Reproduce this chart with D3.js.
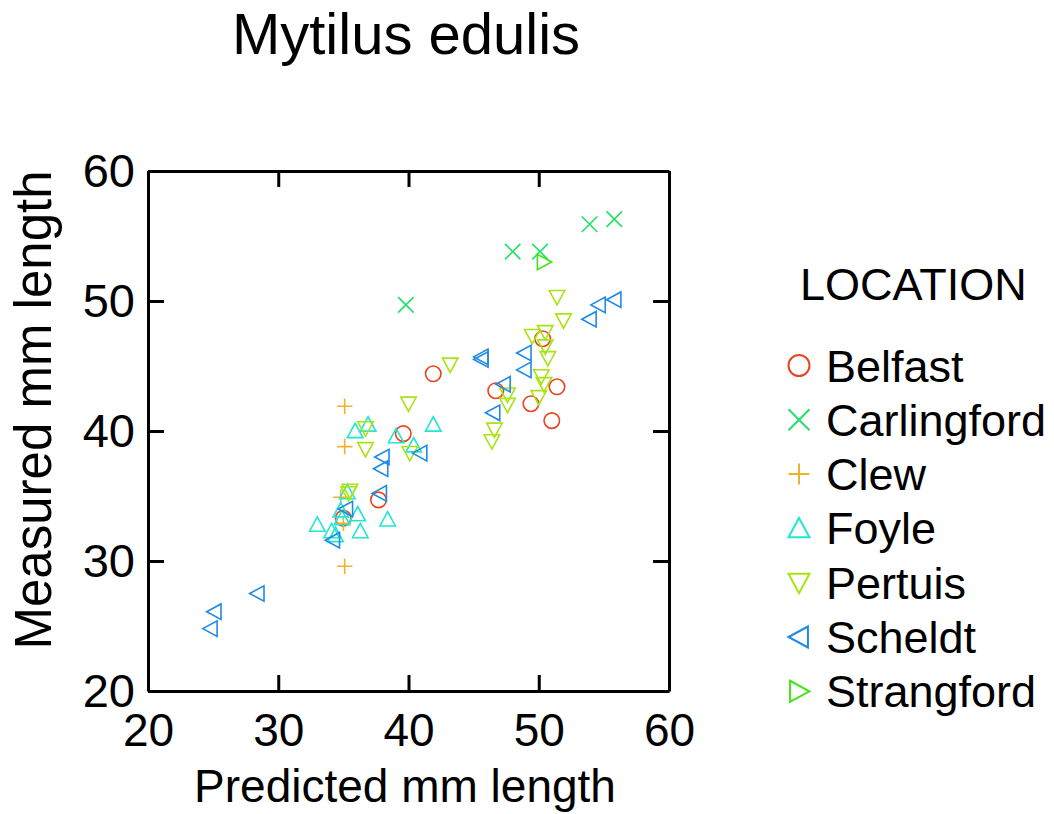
<!DOCTYPE html>
<html>
<head>
<meta charset="utf-8">
<script src="https://cdn.jsdelivr.net/npm/d3@7"></script>
<style>
	body { margin: 0; background: #fff; }
	svg { display: block; font-family: "Liberation Sans", Arial, sans-serif; }
</style>
</head>
<body>
<svg id="chart" width="1054" height="814"></svg>
<script>
// values: [predicted, measured]
const belfast = [[41.9, 44.4], [39.6, 39.8], [37.7, 34.7], [46.7, 43.1], [49.4, 42.1], [51.4, 43.4], [51.0, 40.8], [50.3, 47.1], [35.0, 33.3]];
const carlingford = [[39.8, 49.7], [48.0, 53.8], [50.1, 53.8], [53.9, 55.9], [55.8, 56.3]];
const clew = [[35.1, 41.9], [35.1, 38.8], [35.1, 29.6], [34.8, 34.9], [35.0, 32.9]];
const foyle = [[35.9, 40.0], [36.9, 40.5], [39.05, 39.6], [41.9, 40.5], [40.4, 38.9], [35.3, 35.3], [34.8, 33.9], [36.1, 33.6],
	[34.9, 33.3], [33.0, 32.8], [34.1, 32.3], [34.4, 32.0], [36.3, 32.3], [38.4, 33.2]];
const pertuis = [[51.4, 50.3], [51.9, 48.5], [49.5, 47.3], [50.5, 47.6], [50.5, 46.5], [50.7, 45.6], [50.2, 44.2], [50.4, 43.6],
	[50.0, 42.6], [47.6, 42.8], [47.6, 42.0], [46.6, 40.1], [46.4, 39.2], [43.2, 45.1], [40.0, 42.1], [40.1, 38.3],
	[36.7, 40.2], [36.7, 38.6], [35.5, 35.4], [35.4, 35.2]];
const scheldt = [[55.8, 50.1], [54.6, 49.7], [53.9, 48.6], [48.9, 46.0], [48.9, 44.7], [45.6, 45.7], [45.6, 45.5], [47.3, 43.6],
	[46.5, 41.4], [40.9, 38.3], [38.0, 38.0], [37.9, 37.1], [37.8, 35.2], [35.2, 34.0], [34.2, 31.6], [25.1, 26.1],
	[24.8, 24.8], [28.4, 27.5]];
const strangford = [[50.4, 53.0]];

const locations = ['Belfast', 'Carlingford', 'Clew', 'Foyle', 'Pertuis', 'Scheldt', 'Strangford'];
const seriesData = [belfast, carlingford, clew, foyle, pertuis, scheldt, strangford];
const shapes = ['circle', 'x', 'plus', 'up', 'down', 'left', 'right'];
const colors = ['#ea4420', '#22e068', '#f0b22c', '#22e6d0', '#a8e414', '#1e8ae6', '#3ee616'];
const ticks = [20, 30, 40, 50, 60];

const svg = d3.select('#chart');
const plotLeft = 148, plotRight = 669, plotTop = 171, plotBottom = 691;

const xScale = d3.scaleLinear().domain([20, 60]).range([plotLeft, plotRight]);
const yScale = d3.scaleLinear().domain([20, 60]).range([plotBottom, plotTop]);

// marker outline centred on 0,0
function markerPath(shape, s) {
	const h = s / 2;
	switch (shape) {
		case 'circle': return `M${h},0A${h},${h} 0 1,1 ${-h},0A${h},${h} 0 1,1 ${h},0Z`;
		case 'x': return `M${-h},${-h}L${h},${h}M${-h},${h}L${h},${-h}`;
		case 'plus': return `M${-h},0L${h},0M0,${-h}L0,${h}`;
		case 'up': return `M0,${-h}L${h},${h * 0.85}L${-h},${h * 0.85}Z`;
		case 'down': return `M0,${h}L${h},${-h * 0.85}L${-h},${-h * 0.85}Z`;
		case 'left': return `M${-h},0L${h * 0.85},${-h}L${h * 0.85},${h}Z`;
		case 'right': return `M${h},0L${-h * 0.85},${-h}L${-h * 0.85},${h}Z`;
	}
}

// points
seriesData.forEach((series, i) => {
	svg.append('g')
		.selectAll('path')
		.data(series)
		.enter()
		.append('path')
		.attr('d', markerPath(shapes[i], 15.5))
		.attr('transform', d => 'translate(' + xScale(d[0]) + ',' + yScale(d[1]) + ')')
		.attr('fill', 'none')
		.attr('stroke', colors[i])
		.attr('stroke-width', 1.6);
});

// frame with inward ticks on all four sides
const tickLen = 16;
svg.append('g')
	.attr('transform', 'translate(0,' + plotBottom + ')')
	.call(d3.axisBottom(xScale).tickValues(ticks).tickSizeInner(-tickLen).tickSizeOuter(0).tickPadding(22))
	.call(g => g.selectAll('text').attr('font-size', 46).attr('dy', '0.71em'));
svg.append('g')
	.attr('transform', 'translate(0,' + plotTop + ')')
	.call(d3.axisTop(xScale).tickValues(ticks).tickSizeInner(-tickLen).tickSizeOuter(0).tickFormat(''));
svg.append('g')
	.attr('transform', 'translate(' + plotLeft + ',0)')
	.call(d3.axisLeft(yScale).tickValues(ticks).tickSizeInner(-tickLen).tickSizeOuter(0).tickPadding(13))
	.call(g => g.selectAll('text').attr('font-size', 47));
svg.append('g')
	.attr('transform', 'translate(' + plotRight + ',0)')
	.call(d3.axisRight(yScale).tickValues(ticks).tickSizeInner(-tickLen).tickSizeOuter(0).tickFormat(''));

svg.selectAll('.tick line').attr('stroke', '#000').attr('stroke-width', 3);
svg.selectAll('.domain').attr('stroke', '#000').attr('stroke-width', 3);
svg.selectAll('.tick text').attr('fill', '#000').attr('font-family', '"Liberation Sans", Arial, sans-serif');

// titles
svg.append('text')
	.attr('x', 406).attr('y', 54)
	.attr('text-anchor', 'middle')
	.style('font-size', '58px')
	.text('Mytilus edulis');

svg.append('text')
	.attr('x', 405).attr('y', 802)
	.attr('text-anchor', 'middle')
	.style('font-size', '46px')
	.text('Predicted mm length');

svg.append('text')
	.attr('transform', 'translate(51,410) rotate(-90)')
	.attr('text-anchor', 'middle')
	.style('font-size', '51px')
	.text('Measured mm length');

// legend
const legend = svg.append('g');
legend.append('text')
	.attr('x', 800).attr('y', 300)
	.style('font-size', '45px')
	.text('LOCATION');

const items = legend.selectAll('g.item')
	.data(locations)
	.enter()
	.append('g')
	.attr('class', 'item')
	.attr('transform', (d, i) => 'translate(0,' + (365.5 + i * 54.3) + ')');
items.append('path')
	.attr('d', (d, i) => markerPath(shapes[i], 21))
	.attr('transform', 'translate(799,0)')
	.attr('fill', 'none')
	.attr('stroke', (d, i) => colors[i])
	.attr('stroke-width', 2);
items.append('text')
	.attr('x', 826).attr('y', 16)
	.style('font-size', '45px')
	.text(d => d);
</script>
</body>
</html>
